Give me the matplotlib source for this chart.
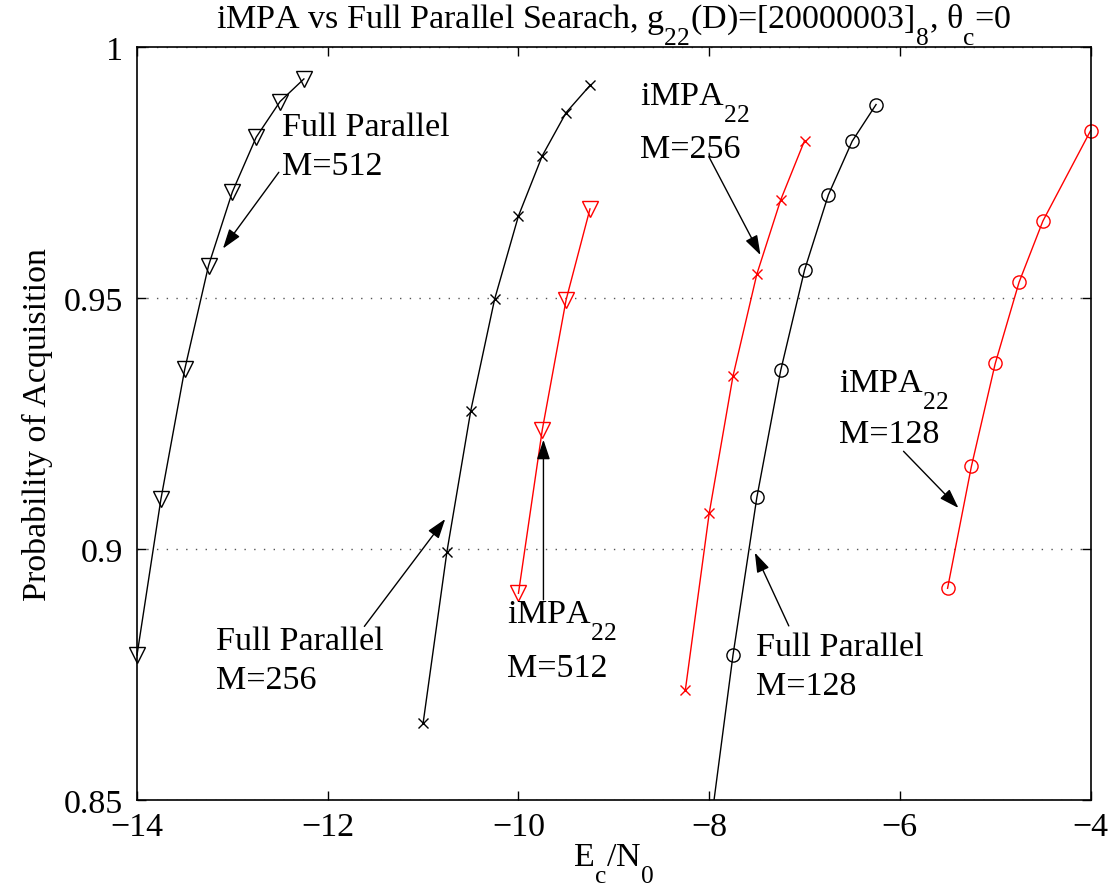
import numpy as np
import matplotlib
matplotlib.use('Agg')
import matplotlib.pyplot as plt
import matplotlib._mathtext as mathtext_internal

plt.rcParams['font.family'] = ['Liberation Serif', 'DejaVu Serif']
plt.rcParams['mathtext.fontset'] = 'custom'
plt.rcParams['mathtext.rm'] = 'Liberation Serif'
plt.rcParams['mathtext.it'] = 'Liberation Serif:italic'
plt.rcParams['mathtext.default'] = 'regular'
# MATLAB style subscripts: bigger and dropped lower than the mathtext default
mathtext_internal.FontConstantsBase.sub1 = 1.1
mathtext_internal.SHRINK_FACTOR = 0.75

# Full parallel search (black)
fp512_x = [-14.0, -13.75, -13.5, -13.25, -13.0, -12.75, -12.5, -12.25]
fp512_y = [0.8789, 0.9099, 0.9358, 0.9565, 0.9712, 0.9821, 0.9892, 0.9937]

fp256_x = [-11.0, -10.75, -10.5, -10.25, -10.0, -9.75, -9.5, -9.25]
fp256_y = [0.8653, 0.8995, 0.9276, 0.9498, 0.9664, 0.9784, 0.9870, 0.9924]

fp128_x = [-8.0, -7.75, -7.5, -7.25, -7.0, -6.75, -6.5, -6.25]
fp128_y = [0.8426, 0.8789, 0.9103, 0.9356, 0.9556, 0.9706, 0.9813, 0.9886]

# iMPA_22 (red)
impa512_x = [-10.0, -9.75, -9.5, -9.25]
impa512_y = [0.8912, 0.9238, 0.9497, 0.9678]

impa256_x = [-8.25, -8.0, -7.75, -7.5, -7.25, -7.0]
impa256_y = [0.8719, 0.9071, 0.9345, 0.9548, 0.9696, 0.9814]

impa128_x = [-5.5, -5.25, -5.0, -4.75, -4.5, -4.0]
impa128_y = [0.8922, 0.9165, 0.9370, 0.9532, 0.9654, 0.9834]

FS = 24.5

fig = plt.figure(figsize=(11.14, 8.95), dpi=100)
ax = fig.add_axes([0.123, 0.105, 0.856, 0.841])

mk = dict(markerfacecolor='none', markeredgewidth=1.0, linewidth=1.0)
ax.plot(fp512_x, fp512_y, color='k', marker='v', markersize=11, clip_on=False, **mk)
ax.plot(fp256_x, fp256_y, color='k', marker='x', markersize=7.5, **mk)
ax.plot(fp128_x, fp128_y, color='k', marker='o', markersize=9.5, **mk)
ax.plot(impa512_x, impa512_y, color='r', marker='v', markersize=11, **mk)
ax.plot(impa256_x, impa256_y, color='r', marker='x', markersize=7.5, **mk)
ax.plot(impa128_x, impa128_y, color='r', marker='o', markersize=9.5, clip_on=False, **mk)

ax.set_xlim(-14, -4)
ax.set_ylim(0.85, 1.0)
ax.set_xticks([-14, -12, -10, -8, -6, -4])
ax.set_xticklabels(['\u221214', '\u221212', '\u221210', '\u22128', '\u22126', '\u22124'])
ax.set_yticks([0.85, 0.9, 0.95, 1.0])
ax.set_yticklabels(['0.85', '0.9', '0.95', '1'])
ax.tick_params(direction='in', top=True, right=True, labelsize=FS, length=6.5, width=1)
ax.tick_params(axis='y', pad=10)
ax.tick_params(axis='x', pad=8)
for s in ax.spines.values():
    s.set_linewidth(1.2)
ax.yaxis.grid(True, linestyle=(0, (1, 6)), color='#555555', linewidth=1)

ax.set_title('iMPA vs Full Parallel Searach, g$_{22}$(D)=[20000003]$_8$, \u03b8$_c$=0',
             fontsize=FS, pad=14)
ax.set_xlabel('E$_c$/N$_0$', fontsize=FS, labelpad=0)
ax.set_ylabel('Probability of Acquisition', fontsize=FS, labelpad=8)

arrow = dict(arrowstyle='-|>,head_length=0.6,head_width=0.2', color='k', lw=1,
             shrinkA=0, shrinkB=0, mutation_scale=20)

# (line 1, line 2, x, baseline 1, baseline 2, arrow tail, arrow head)
labels = [
    ('Full Parallel', 'M=512', -12.48, 0.9825, 0.9747, (-12.513, 0.9751), (-13.099, 0.9599)),
    ('Full Parallel', 'M=256', -13.176, 0.8801, 0.8723, (-11.616, 0.8846), (-10.768, 0.9060)),
    ('iMPA$_{22}$', 'M=512', -10.12, 0.8853, 0.8747, (-9.738, 0.8899), (-9.738, 0.9218)),
    ('iMPA$_{22}$', 'M=256', -8.729, 0.9886, 0.9781, (-8.003, 0.9782), (-7.462, 0.9586)),
    ('Full Parallel', 'M=128', -7.514, 0.8789, 0.8711, (-7.165, 0.8847), (-7.521, 0.8993)),
    ('iMPA$_{22}$', 'M=128', -6.642, 0.9315, 0.9213, (-5.962, 0.9195), (-5.386, 0.9082)),
]
for line1, line2, x, y1, y2, tail, head in labels:
    ax.text(x, y1, line1, fontsize=FS, ha='left', va='baseline')
    ax.text(x, y2, line2, fontsize=FS, ha='left', va='baseline')
    ax.annotate('', xy=head, xytext=tail, arrowprops=arrow)

fig.savefig('out.png', dpi=100)
